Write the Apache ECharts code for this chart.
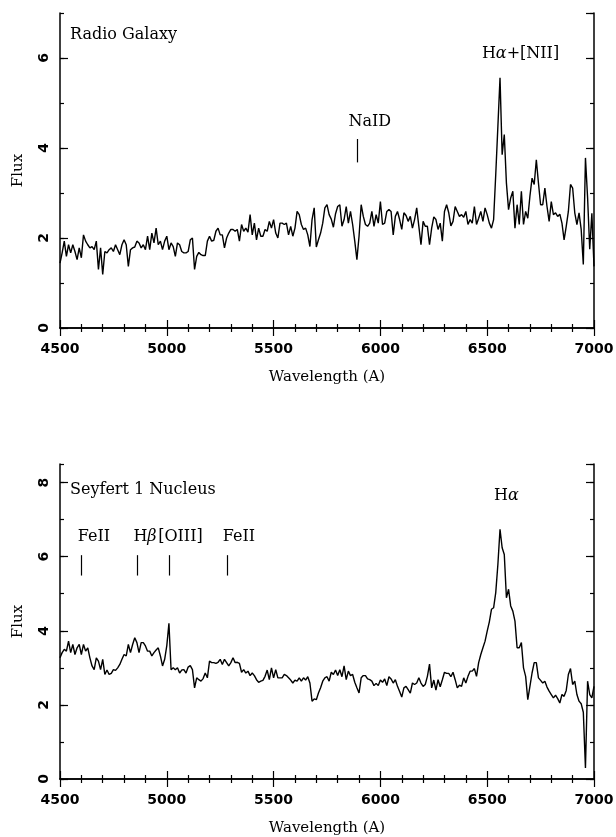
<!DOCTYPE html>
<html>
<head>
<meta charset="utf-8">
<script src="https://cdn.jsdelivr.net/npm/echarts@6/dist/echarts.min.js"></script>
<style>
  html, body { margin: 0; padding: 0; background: #fff; }
  #chart { width: 616px; height: 837px; }
</style>
</head>
<body>
<div id="chart"></div>
<script>
// spectra sampled every 10 A from 4500 to 7000
var waveStart = 4500;
var waveStep = 10;
var waveMin = 4500, waveMax = 7000;

var radioFlux = [
  1.44,1.67,1.93,1.59,1.85,1.67,1.85,1.70,1.52,1.78,
  1.56,2.07,1.93,1.85,1.78,1.81,1.74,1.93,1.30,1.78,
  1.19,1.70,1.67,1.74,1.78,1.70,1.85,1.74,1.63,1.85,
  1.96,1.85,1.37,1.74,1.78,1.80,1.93,1.89,1.78,1.85,
  1.74,2.04,1.74,2.11,1.89,2.22,1.85,1.93,1.74,1.93,
  2.04,1.74,1.89,1.81,1.59,1.89,1.85,1.70,1.67,1.67,
  1.70,1.96,2.00,1.30,
  1.59,1.68,1.63,1.61,1.61,1.93,2.04,1.93,1.95,2.15,
  2.22,2.07,2.07,1.78,2.00,2.11,2.19,2.19,2.15,2.19,
  1.93,2.30,2.15,2.22,2.13,2.52,2.07,2.33,1.96,2.22,
  2.04,2.04,2.19,2.15,2.37,2.22,2.41,2.11,2.00,2.33,
  2.33,2.30,2.33,2.07,2.26,2.04,2.22,2.59,2.52,2.30,
  2.19,2.22,2.07,1.81,2.41,2.67,1.80,1.96,2.11,2.33,
  2.67,
  2.74,2.52,2.42,2.24,2.54,2.70,2.74,2.26,2.41,2.70,
  2.33,2.59,2.30,1.93,1.52,2.04,2.74,2.48,2.30,2.26,
  2.33,2.59,2.26,2.52,2.33,2.81,2.30,2.33,2.59,2.63,
  2.59,2.07,2.48,2.59,2.41,2.19,2.56,2.50,2.37,2.48,
  2.22,2.41,2.67,2.26,1.85,2.37,2.26,2.26,1.85,2.22,
  2.47,2.41,2.19,2.33,1.93,2.59,2.74,2.56,2.27,2.37,
  2.70,
  2.59,2.48,2.52,2.46,2.59,2.30,2.41,2.33,2.70,2.30,
  2.44,2.59,2.37,2.67,2.52,2.33,2.22,2.41,3.41,4.48,
  5.56,3.85,4.30,3.22,2.63,2.89,3.04,2.22,2.74,2.30,
  3.04,2.30,2.59,2.44,2.93,3.33,3.19,3.74,3.22,2.74,
  2.74,3.11,2.70,2.37,2.81,2.52,2.56,2.48,2.53,2.33,
  1.96,2.26,2.59,3.19,3.11,2.56,2.30,2.56,2.19,1.41,
  3.78,2.90,1.75,2.55,1.37
];

var seyfertFlux = [
  3.27,3.41,3.50,3.45,3.72,3.41,3.63,3.36,3.54,3.63,
  3.36,3.63,3.45,3.54,3.27,3.05,2.95,3.27,3.18,2.95,
  3.23,2.82,2.94,2.82,2.85,2.95,2.93,3.00,3.09,3.23,
  3.36,3.32,3.63,3.41,3.63,3.81,3.68,3.41,3.68,3.68,
  3.59,3.45,3.45,3.32,3.41,3.48,3.54,3.32,3.05,3.23,
  3.60,4.20,2.95,3.00,2.95,3.00,2.86,2.94,2.95,2.86,
  3.02,3.06,2.95,2.46,
  2.73,2.68,2.64,2.71,2.86,2.73,3.18,3.14,3.14,3.12,
  3.15,3.23,3.09,3.23,3.14,3.05,3.14,3.27,3.14,3.15,
  3.12,2.88,2.95,2.86,2.91,2.79,2.86,2.79,2.68,2.61,
  2.64,2.66,2.77,2.94,2.68,3.00,2.73,2.95,2.73,2.73,
  2.73,2.82,2.79,2.73,2.67,2.59,2.67,2.64,2.73,2.64,
  2.73,2.67,2.76,2.59,2.10,2.16,2.14,2.32,2.46,2.64,
  2.73,
  2.76,2.64,2.88,2.82,2.94,2.79,2.95,2.76,3.05,2.68,
  2.91,2.79,2.82,2.61,2.46,2.32,2.73,2.79,2.79,2.70,
  2.68,2.64,2.52,2.58,2.52,2.67,2.61,2.70,2.52,2.76,
  2.70,2.59,2.68,2.50,2.36,2.21,2.46,2.50,2.41,2.32,
  2.59,2.55,2.59,2.73,2.59,2.50,2.55,2.77,3.10,2.46,
  2.67,2.40,2.68,2.49,2.68,2.88,2.85,2.85,2.76,2.88,
  2.68,
  2.46,2.53,2.50,2.73,2.59,2.77,2.91,2.91,2.98,2.77,
  3.14,3.36,3.54,3.72,3.99,4.24,4.58,4.62,5.03,5.79,
  6.74,6.24,6.06,4.89,5.12,4.67,4.53,4.26,3.54,3.54,
  3.68,3.00,2.77,2.14,2.50,2.86,3.14,3.14,2.73,2.66,
  2.59,2.64,2.48,2.37,2.28,2.19,2.26,2.17,2.05,2.28,
  2.23,2.39,2.82,2.98,2.55,2.64,2.28,2.10,2.03,1.80,
  0.30,2.64,2.28,2.19,2.50
];

// line identifications
var radioLabels = ['NaID', 'Hα+[NII]'];
var radioLabelWave = [5950, 6656];
var radioLabelFlux = [4.59, 6.09];
var radioTickWave = [5893];
var radioTickFlux = [3.68, 4.2];

var seyLabels = ['FeII', 'Hβ', '[OIII]', 'FeII', 'Hα'];
var seyLabelWave = [4659, 4898, 5064, 5338, 6590];
var seyLabelFlux = [6.53, 6.53, 6.53, 6.53, 7.64];
var seyTickWave = [4601, 4862, 5010, 5281];
var seyTickFlux = [5.49, 6.04];

var radioYMax = 7;
var seyYMax = 8.5;

var serif = 'DejaVu Serif';
var sans = 'DejaVu Sans';
var ink = '#000';

function toPairs(flux) {
  return flux.map(function (f, i) { return [waveStart + i * waveStep, f]; });
}

function labelPoints(names, waves, fluxes) {
  return names.map(function (n, i) { return [waves[i], fluxes[i], n]; });
}

function tickSegments(waves, fl) {
  return waves.map(function (w) {
    return [{ coord: [w, fl[0]] }, { coord: [w, fl[1]] }];
  });
}

function plain(v) { return String(v); }

function xAxes(g) {
  var base = {
    type: 'value', gridIndex: g, min: waveMin, max: waveMax, interval: 500,
    axisLine: { lineStyle: { color: ink, width: 1.5 } },
    axisTick: { inside: true, length: 8, lineStyle: { color: ink, width: 1.2 } },
    minorTick: { show: true, splitNumber: 5, length: 4, lineStyle: { color: ink, width: 1.2 } },
    splitLine: { show: false }
  };
  var bottom = Object.assign({}, base, {
    position: 'bottom',
    name: 'Wavelength (A)', nameLocation: 'middle', nameGap: 42,
    nameTextStyle: { fontFamily: serif, fontSize: 15, color: ink },
    axisLabel: { margin: 14, fontFamily: sans, fontSize: 14, fontWeight: 'bold', color: ink, formatter: plain }
  });
  var top = Object.assign({}, base, { position: 'top', axisLabel: { show: false } });
  return [bottom, top];
}

function yAxes(g, yMax) {
  function axis(pos, interval, len, showLine) {
    return {
      type: 'value', gridIndex: g, position: pos, min: 0, max: yMax, interval: interval,
      axisLine: { show: showLine, lineStyle: { color: ink, width: 1.5 } },
      axisTick: { inside: true, length: len, lineStyle: { color: ink, width: 1.2 } },
      axisLabel: { show: false },
      splitLine: { show: false }
    };
  }
  var leftMajor = axis('left', 2, 8, true);
  leftMajor.axisLabel = {
    show: true, rotate: 90, margin: 9, showMaxLabel: false,
    fontFamily: sans, fontSize: 14, fontWeight: 'bold', color: ink, formatter: plain
  };
  leftMajor.name = 'Flux';
  leftMajor.nameLocation = 'middle';
  leftMajor.nameGap = 34;
  leftMajor.nameTextStyle = { fontFamily: serif, fontSize: 15, color: ink };
  return [leftMajor, axis('left', 1, 4, false), axis('right', 2, 8, true), axis('right', 1, 4, false)];
}

function spectrum(xi, yi, flux, ticks) {
  return {
    type: 'line', xAxisIndex: xi, yAxisIndex: yi, data: toPairs(flux),
    showSymbol: false, symbol: 'none', silent: true,
    lineStyle: { color: ink, width: 1.4 },
    markLine: {
      silent: true, symbol: ['none', 'none'], label: { show: false },
      lineStyle: { color: ink, width: 1.2, type: 'solid' },
      data: ticks
    }
  };
}

function idLabels(xi, yi, pts) {
  return {
    type: 'scatter', xAxisIndex: xi, yAxisIndex: yi, data: pts,
    symbolSize: 0, silent: true, itemStyle: { color: 'rgba(0,0,0,0)' },
    label: {
      show: true, position: 'inside', color: ink, opacity: 1, textBorderWidth: 0,
      fontFamily: serif, fontSize: 16,
      formatter: function (p) { return p.value[2].replace(/([αβ])/g, '{g|$1}'); },
      rich: { g: { fontFamily: serif, fontSize: 16, fontStyle: 'italic', color: ink } }
    }
  };
}

var chart = echarts.init(document.getElementById('chart'));
var titleStyle = { fontFamily: serif, fontSize: 16, fontWeight: 'normal', color: ink };

chart.setOption({
  animation: false,
  backgroundColor: '#fff',
  title: [
    { text: 'Radio Galaxy', left: 70, top: 27, padding: 0, textStyle: titleStyle },
    { text: 'Seyfert 1 Nucleus', left: 70, top: 482, padding: 0, textStyle: titleStyle }
  ],
  grid: [
    { left: 60, top: 13, width: 534, height: 315, containLabel: false, outerBoundsMode: 'none' },
    { left: 60, top: 464, width: 534, height: 315, containLabel: false, outerBoundsMode: 'none' }
  ],
  xAxis: xAxes(0).concat(xAxes(1)),
  yAxis: yAxes(0, radioYMax).concat(yAxes(1, seyYMax)),
  series: [
    spectrum(0, 0, radioFlux, tickSegments(radioTickWave, radioTickFlux)),
    idLabels(0, 0, labelPoints(radioLabels, radioLabelWave, radioLabelFlux)),
    spectrum(2, 4, seyfertFlux, tickSegments(seyTickWave, seyTickFlux)),
    idLabels(2, 4, labelPoints(seyLabels, seyLabelWave, seyLabelFlux))
  ]
});
</script>
</body>
</html>
